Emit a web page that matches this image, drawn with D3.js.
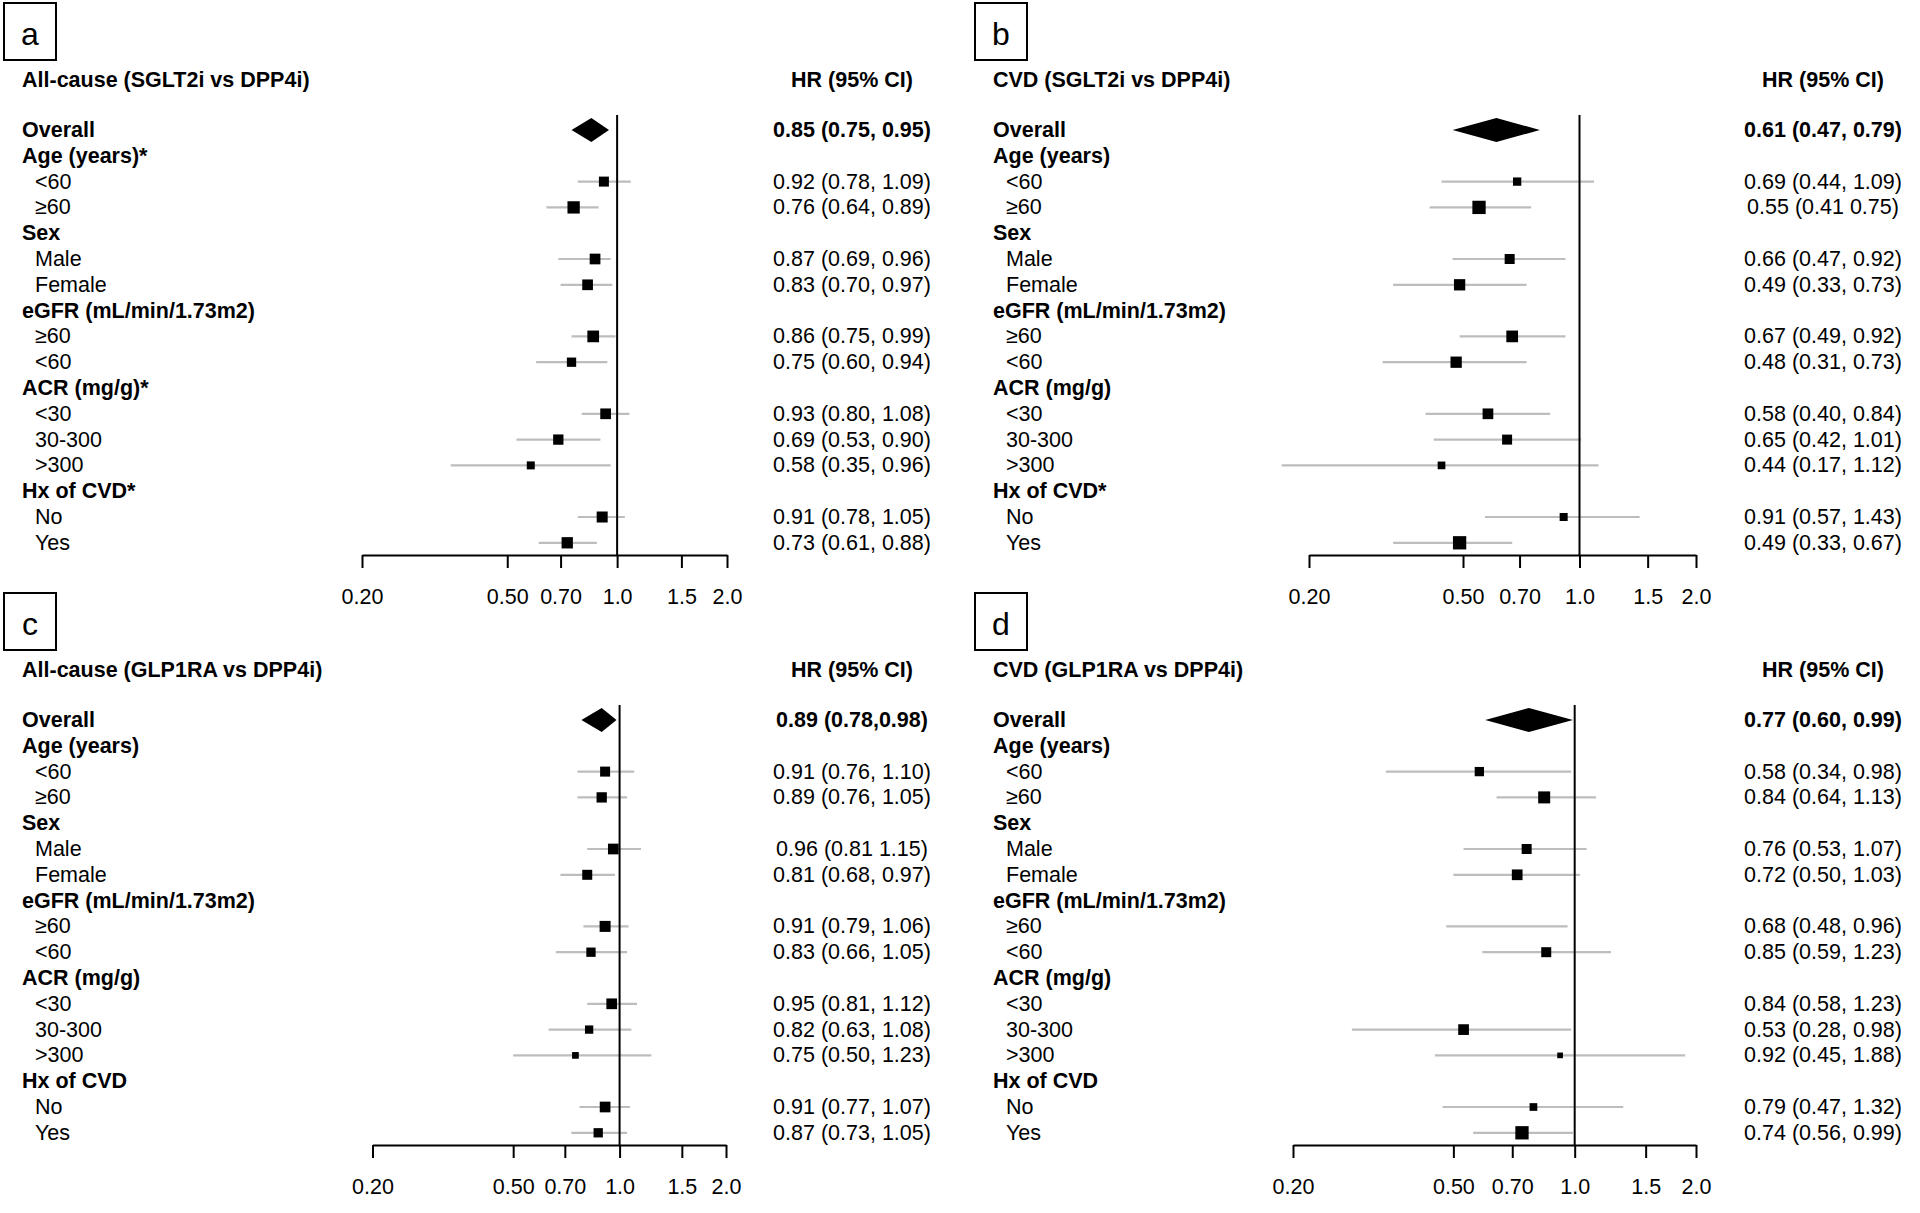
<!DOCTYPE html>
<html><head><meta charset="utf-8">
<script src="https://cdn.jsdelivr.net/npm/d3@7"></script>
<style>
body{margin:0;background:#fff}
svg{display:block}
text{font-family:"Liberation Sans",Arial,sans-serif}
</style>
</head><body>
<svg id="chart" width="1920" height="1213"></svg>
<script>
// ---------- DATA ----------
const panelLetters = ["a", "b", "c", "d"];
const panelTitles = ["All-cause (SGLT2i vs DPP4i)", "CVD (SGLT2i vs DPP4i)", "All-cause (GLP1RA vs DPP4i)", "CVD (GLP1RA vs DPP4i)"];
const columnHeader = "HR (95% CI)";
const overallLabel = "Overall";
const headingsA = ["Age (years)*", "Sex", "eGFR (mL/min/1.73m2)", "ACR (mg/g)*", "Hx of CVD*"];
const headingsB = ["Age (years)", "Sex", "eGFR (mL/min/1.73m2)", "ACR (mg/g)", "Hx of CVD*"];
const headingsC = ["Age (years)", "Sex", "eGFR (mL/min/1.73m2)", "ACR (mg/g)", "Hx of CVD"];
const headingsD = ["Age (years)", "Sex", "eGFR (mL/min/1.73m2)", "ACR (mg/g)", "Hx of CVD"];
const subgroups = [["<60", "≥60"], ["Male", "Female"], ["≥60", "<60"], ["<30", "30-300", ">300"], ["No", "Yes"]];
const tickValues = [0.2, 0.5, 0.7, 1.0, 1.5, 2.0];
const tickLabels = ["0.20", "0.50", "0.70", "1.0", "1.5", "2.0"];

// Panel a
const hrA = [0.85, 0.92, 0.76, 0.87, 0.83, 0.86, 0.75, 0.93, 0.69, 0.58, 0.91, 0.73];
const loA = [0.75, 0.78, 0.64, 0.69, 0.70, 0.75, 0.60, 0.80, 0.53, 0.35, 0.78, 0.61];
const hiA = [0.95, 1.09, 0.89, 0.96, 0.97, 0.99, 0.94, 1.08, 0.90, 0.96, 1.05, 0.88];
const weightA = [null, 1.0, 1.23, 1.07, 1.07, 1.17, 0.93, 1.07, 1.03, 0.8, 1.1, 1.13];
const ciShownA = [1, 1, 1, 1, 1, 1, 1, 1, 1, 1, 1, 1];
const textA = ["0.85 (0.75, 0.95)", "0.92 (0.78, 1.09)", "0.76 (0.64, 0.89)", "0.87 (0.69, 0.96)", "0.83 (0.70, 0.97)", "0.86 (0.75, 0.99)", "0.75 (0.60, 0.94)", "0.93 (0.80, 1.08)", "0.69 (0.53, 0.90)", "0.58 (0.35, 0.96)", "0.91 (0.78, 1.05)", "0.73 (0.61, 0.88)"];

// Panel b
const hrB = [0.61, 0.69, 0.55, 0.66, 0.49, 0.67, 0.48, 0.58, 0.65, 0.44, 0.91, 0.49];
const loB = [0.47, 0.44, 0.41, 0.47, 0.33, 0.49, 0.31, 0.40, 0.42, 0.17, 0.57, 0.33];
const hiB = [0.79, 1.09, 0.75, 0.92, 0.73, 0.92, 0.73, 0.84, 1.01, 1.12, 1.43, 0.67];
const weightB = [null, 0.83, 1.33, 1.0, 1.13, 1.17, 1.13, 1.07, 1.0, 0.77, 0.8, 1.33];
const ciShownB = [1, 1, 1, 1, 1, 1, 1, 1, 1, 1, 1, 1];
const textB = ["0.61 (0.47, 0.79)", "0.69 (0.44, 1.09)", "0.55 (0.41 0.75)", "0.66 (0.47, 0.92)", "0.49 (0.33, 0.73)", "0.67 (0.49, 0.92)", "0.48 (0.31, 0.73)", "0.58 (0.40, 0.84)", "0.65 (0.42, 1.01)", "0.44 (0.17, 1.12)", "0.91 (0.57, 1.43)", "0.49 (0.33, 0.67)"];

// Panel c
const hrC = [0.89, 0.91, 0.89, 0.96, 0.81, 0.91, 0.83, 0.95, 0.82, 0.75, 0.91, 0.87];
const loC = [0.78, 0.76, 0.76, 0.81, 0.68, 0.79, 0.66, 0.81, 0.63, 0.50, 0.77, 0.73];
const hiC = [0.98, 1.10, 1.05, 1.15, 0.97, 1.06, 1.05, 1.12, 1.08, 1.23, 1.07, 1.05];
const weightC = [null, 1.0, 1.03, 1.07, 1.0, 1.1, 0.93, 1.07, 0.83, 0.67, 1.07, 0.93];
const ciShownC = [1, 1, 1, 1, 1, 1, 1, 1, 1, 1, 1, 1];
const textC = ["0.89 (0.78,0.98)", "0.91 (0.76, 1.10)", "0.89 (0.76, 1.05)", "0.96 (0.81 1.15)", "0.81 (0.68, 0.97)", "0.91 (0.79, 1.06)", "0.83 (0.66, 1.05)", "0.95 (0.81, 1.12)", "0.82 (0.63, 1.08)", "0.75 (0.50, 1.23)", "0.91 (0.77, 1.07)", "0.87 (0.73, 1.05)"];

// Panel d
const hrD = [0.77, 0.58, 0.84, 0.76, 0.72, 0.68, 0.85, 0.84, 0.53, 0.92, 0.79, 0.74];
const loD = [0.60, 0.34, 0.64, 0.53, 0.50, 0.48, 0.59, 0.58, 0.28, 0.45, 0.47, 0.56];
const hiD = [0.99, 0.98, 1.13, 1.07, 1.03, 0.96, 1.23, 1.23, 0.98, 1.88, 1.32, 0.99];
const weightD = [null, 0.93, 1.2, 1.0, 1.07, 0, 1.0, 0, 1.07, 0.57, 0.77, 1.33];
const ciShownD = [1, 1, 1, 1, 1, 1, 1, 0, 1, 1, 1, 1];
const textD = ["0.77 (0.60, 0.99)", "0.58 (0.34, 0.98)", "0.84 (0.64, 1.13)", "0.76 (0.53, 1.07)", "0.72 (0.50, 1.03)", "0.68 (0.48, 0.96)", "0.85 (0.59, 1.23)", "0.84 (0.58, 1.23)", "0.53 (0.28, 0.98)", "0.92 (0.45, 1.88)", "0.79 (0.47, 1.32)", "0.74 (0.56, 0.99)"];

// ---------- LAYOUT ----------
const panels = [
  {letter: panelLetters[0], title: panelTitles[0], headings: headingsA, hr: hrA, lo: loA, hi: hiA, w: weightA, ci: ciShownA, txt: textA,
   x0: 0, y0: 0, axisL: 362, axisR: 727},
  {letter: panelLetters[1], title: panelTitles[1], headings: headingsB, hr: hrB, lo: loB, hi: hiB, w: weightB, ci: ciShownB, txt: textB,
   x0: 971, y0: 0, axisL: 1309, axisR: 1696},
  {letter: panelLetters[2], title: panelTitles[2], headings: headingsC, hr: hrC, lo: loC, hi: hiC, w: weightC, ci: ciShownC, txt: textC,
   x0: 0, y0: 590, axisL: 372.5, axisR: 726},
  {letter: panelLetters[3], title: panelTitles[3], headings: headingsD, hr: hrD, lo: loD, hi: hiD, w: weightD, ci: ciShownD, txt: textD,
   x0: 971, y0: 590, axisL: 1293, axisR: 1696}
];

const FS = 21.5;
const ROW = 25.8;
const svg = d3.select("#chart");
const boxSize = d3.scaleLinear().domain([0, 1]).range([0, 10]);

panels.forEach(p => {
  const g = svg.append("g");
  const x = d3.scaleLog().domain([0.2, 2.0]).range([p.axisL, p.axisR]);
  const y0 = p.y0, x0 = p.x0;

  // build rows
  const rows = [{label: overallLabel, kind: "overall", est: 0}];
  let k = 1;
  p.headings.forEach((h, gi) => {
    rows.push({label: h, kind: "head"});
    subgroups[gi].forEach(s => { rows.push({label: s, kind: "sub", est: k}); k++; });
  });
  const rowY = i => y0 + 130 + i * ROW;

  // letter box
  g.append("rect").attr("x", x0 + 4).attr("y", y0 + 3).attr("width", 52).attr("height", 57)
    .attr("fill", "#fff").attr("stroke", "#000").attr("stroke-width", 2);
  g.append("text").attr("x", x0 + 30).attr("y", y0 + 45).attr("text-anchor", "middle")
    .attr("font-size", 32).text(p.letter);

  // title & header
  g.append("text").attr("x", x0 + 22).attr("y", y0 + 80).attr("dominant-baseline", "central")
    .attr("font-size", FS).attr("font-weight", "bold").text(p.title);
  g.append("text").attr("x", x0 + 852).attr("y", y0 + 80).attr("dominant-baseline", "central")
    .attr("text-anchor", "middle").attr("font-size", FS).attr("font-weight", "bold").text(columnHeader);

  // row labels & values
  rows.forEach((r, i) => {
    g.append("text").attr("x", x0 + (r.kind === "sub" ? 35 : 22)).attr("y", rowY(i))
      .attr("dominant-baseline", "central").attr("font-size", FS)
      .attr("font-weight", r.kind === "sub" ? "normal" : "bold").text(r.label);
    if (r.est !== undefined) {
      g.append("text").attr("x", x0 + 852).attr("y", rowY(i)).attr("dominant-baseline", "central")
        .attr("text-anchor", "middle").attr("font-size", FS)
        .attr("font-weight", r.kind === "overall" ? "bold" : "normal").text(p.txt[r.est]);
    }
  });

  // CI lines
  const estRows = rows.map((r, i) => Object.assign({i}, r)).filter(r => r.kind === "sub");
  g.selectAll(".ci").data(estRows.filter(r => p.ci[r.est])).enter().append("line")
    .attr("x1", r => x(p.lo[r.est])).attr("x2", r => x(p.hi[r.est]))
    .attr("y1", r => rowY(r.i)).attr("y2", r => rowY(r.i))
    .attr("stroke", "#bdbdbd").attr("stroke-width", 2.2);

  // reference line
  g.append("line").attr("x1", x(1)).attr("x2", x(1)).attr("y1", y0 + 115).attr("y2", y0 + 555)
    .attr("stroke", "#000").attr("stroke-width", 2);

  // boxes
  g.selectAll(".box").data(estRows.filter(r => p.ci[r.est] && p.w[r.est] > 0)).enter().append("rect")
    .attr("x", r => x(p.hr[r.est]) - boxSize(p.w[r.est]) / 2)
    .attr("y", r => rowY(r.i) - boxSize(p.w[r.est]) / 2)
    .attr("width", r => boxSize(p.w[r.est])).attr("height", r => boxSize(p.w[r.est]))
    .attr("fill", "#000");

  // overall diamond
  const yo = rowY(0);
  g.append("path").attr("d",
    `M${x(p.lo[0])},${yo} L${x(p.hr[0])},${yo - 12} L${x(p.hi[0])},${yo} L${x(p.hr[0])},${yo + 12} Z`)
    .attr("fill", "#000");

  // axis
  const axis = d3.axisBottom(x).tickValues(tickValues).tickFormat((d, i) => tickLabels[i]).tickSize(13).tickSizeOuter(0);
  const ax = g.append("g").attr("transform", `translate(0,${y0 + 555})`).call(axis);
  ax.select(".domain").attr("stroke", "#000").attr("stroke-width", 2);
  ax.selectAll(".tick line").attr("stroke", "#000").attr("stroke-width", 2);
  ax.selectAll(".tick text").attr("font-size", FS).attr("font-family", '"Liberation Sans",Arial,sans-serif')
    .attr("fill", "#000").attr("y", 42).attr("dy", "0").attr("dominant-baseline", "central");
});
</script>
</body></html>
